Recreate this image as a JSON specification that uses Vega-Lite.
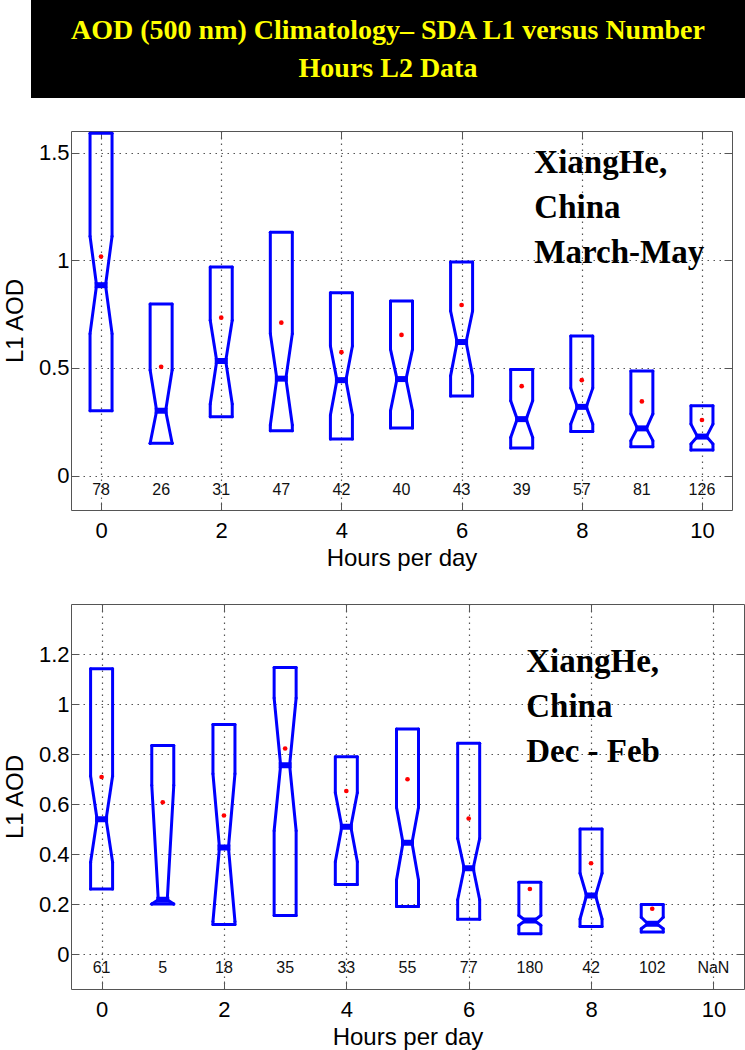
{
  "$schema": "https://vega.github.io/schema/vega-lite/v6.json",
  "padding": {"left": 2, "top": 0, "right": 0, "bottom": 0},
  "spacing": 32,
  "background": "white",
  "config": {
    "font": "Liberation Sans",
    "view": {"stroke": "#555555", "strokeWidth": 1},
    "axis": {
      "labelFont": "Liberation Sans", "labelFontSize": 22, "labelColor": "#000000",
      "titleFont": "Liberation Sans", "titleFontSize": 24, "titleFontWeight": "normal", "titleColor": "#000000",
      "grid": true, "gridColor": "#555555", "gridDash": [1.5, 4.5], "gridWidth": 1.2,
      "domain": false, "tickColor": "#555555", "tickSize": -8, "tickWidth": 1
    },
    "axisX": {"labelPadding": 18, "titlePadding": 5},
    "axisY": {"labelPadding": 10, "titlePadding": 11}
  },
  "datasets": {
    "spring": [
      {"hour": 0, "q1": 0.301, "nlo": 0.659, "med": 0.884, "nhi": 1.111, "q3": 1.59, "mean": 1.017, "n": "78"},
      {"hour": 1, "q1": 0.150, "nlo": 0.150, "med": 0.301, "nhi": 0.490, "q3": 0.797, "mean": 0.505, "n": "26"},
      {"hour": 2, "q1": 0.273, "nlo": 0.332, "med": 0.532, "nhi": 0.721, "q3": 0.969, "mean": 0.733, "n": "31"},
      {"hour": 3, "q1": 0.208, "nlo": 0.235, "med": 0.450, "nhi": 0.659, "q3": 1.130, "mean": 0.710, "n": "47"},
      {"hour": 4, "q1": 0.170, "nlo": 0.281, "med": 0.443, "nhi": 0.602, "q3": 0.849, "mean": 0.573, "n": "42"},
      {"hour": 5, "q1": 0.221, "nlo": 0.301, "med": 0.448, "nhi": 0.586, "q3": 0.810, "mean": 0.653, "n": "40"},
      {"hour": 6, "q1": 0.369, "nlo": 0.463, "med": 0.620, "nhi": 0.764, "q3": 0.992, "mean": 0.792, "n": "43"},
      {"hour": 7, "q1": 0.128, "nlo": 0.177, "med": 0.262, "nhi": 0.347, "q3": 0.492, "mean": 0.415, "n": "39"},
      {"hour": 8, "q1": 0.204, "nlo": 0.239, "med": 0.319, "nhi": 0.406, "q3": 0.648, "mean": 0.443, "n": "57"},
      {"hour": 9, "q1": 0.134, "nlo": 0.162, "med": 0.219, "nhi": 0.286, "q3": 0.486, "mean": 0.344, "n": "81"},
      {"hour": 10, "q1": 0.119, "nlo": 0.147, "med": 0.181, "nhi": 0.239, "q3": 0.324, "mean": 0.258, "n": "126"}
    ],
    "winter": [
      {"hour": 0, "q1": 0.260, "nlo": 0.367, "med": 0.539, "nhi": 0.712, "q3": 1.141, "mean": 0.708, "n": "61"},
      {"hour": 1, "q1": 0.200, "nlo": 0.200, "med": 0.217, "nhi": 0.675, "q3": 0.834, "mean": 0.607, "n": "5"},
      {"hour": 2, "q1": 0.118, "nlo": 0.130, "med": 0.426, "nhi": 0.721, "q3": 0.918, "mean": 0.554, "n": "18"},
      {"hour": 3, "q1": 0.154, "nlo": 0.493, "med": 0.755, "nhi": 1.024, "q3": 1.146, "mean": 0.822, "n": "35"},
      {"hour": 4, "q1": 0.278, "nlo": 0.369, "med": 0.509, "nhi": 0.645, "q3": 0.789, "mean": 0.652, "n": "33"},
      {"hour": 5, "q1": 0.190, "nlo": 0.296, "med": 0.445, "nhi": 0.586, "q3": 0.900, "mean": 0.699, "n": "55"},
      {"hour": 6, "q1": 0.139, "nlo": 0.217, "med": 0.343, "nhi": 0.462, "q3": 0.843, "mean": 0.542, "n": "77"},
      {"hour": 7, "q1": 0.081, "nlo": 0.115, "med": 0.134, "nhi": 0.154, "q3": 0.287, "mean": 0.260, "n": "180"},
      {"hour": 8, "q1": 0.110, "nlo": 0.140, "med": 0.234, "nhi": 0.323, "q3": 0.500, "mean": 0.363, "n": "42"},
      {"hour": 9, "q1": 0.088, "nlo": 0.101, "med": 0.121, "nhi": 0.147, "q3": 0.198, "mean": 0.181, "n": "102"},
      {"hour": 10, "q1": null, "nlo": null, "med": null, "nhi": null, "q3": null, "mean": null, "n": "NaN"}
    ]
  },
  "vconcat": [
    {
      "width": 674, "height": 98,
      "view": {"fill": "#000000", "stroke": null},
      "data": {"values": [{"t": "AOD (500 nm) Climatology– SDA L1 versus Number\nHours L2 Data"}]},
      "layer": [
        {"mark": {"type": "rect", "color": "#000000", "xOffset": -40},
         "encoding": {"x": {"datum": 0, "type": "quantitative", "scale": {"domain": [0, 1], "nice": false, "zero": false}, "axis": null}, "x2": {"datum": 1}}},
        {"mark": {"type": "text", "color": "#FFFF00", "font": "Liberation Serif", "fontWeight": "bold", "fontSize": 28, "lineBreak": "\n", "lineHeight": 38, "baseline": "middle", "align": "center", "dx": -20, "dy": -18},
         "encoding": {"text": {"field": "t"}}}
      ]
    },
    {
      "width": 661, "height": 379,
      "data": {"name": "spring"},
      "resolve": {"axis": {"x": "independent", "y": "independent"}},
      "layer": [
        {
          "encoding": {
            "x": {"field": "hour", "type": "quantitative", "scale": {"domain": [-0.5, 10.5], "nice": false, "zero": false}, "axis": {"values": [0, 2, 4, 6, 8, 10], "title": "Hours per day"}}
          },
          "layer": [
            {"mark": {"type": "rule", "color": "#0000FF", "strokeWidth": 3, "strokeCap": "round", "xOffset": -11, "x2Offset": 11},
             "encoding": {"x2": {"field": "hour"}, "y": {"field": "q3", "type": "quantitative", "title": "L1 AOD", "scale": {"domain": [-0.16, 1.6], "nice": false, "zero": false}, "axis": {"values": [0, 0.5, 1, 1.5], "format": "~g", "title": "L1 AOD"}}}},
            {"mark": {"type": "rule", "color": "#0000FF", "strokeWidth": 3, "strokeCap": "round", "xOffset": -11, "x2Offset": 11},
             "encoding": {"x2": {"field": "hour"}, "y": {"field": "q1", "type": "quantitative", "title": "L1 AOD", "scale": {"domain": [-0.16, 1.6], "nice": false, "zero": false}}}},
            {"mark": {"type": "rule", "color": "#0000FF", "strokeWidth": 3, "strokeCap": "round", "xOffset": -11},
             "encoding": {"y": {"field": "q1", "type": "quantitative", "title": "L1 AOD", "scale": {"domain": [-0.16, 1.6], "nice": false, "zero": false}}, "y2": {"field": "nlo"}}},
            {"mark": {"type": "rule", "color": "#0000FF", "strokeWidth": 3, "strokeCap": "round", "xOffset": 11},
             "encoding": {"y": {"field": "q1", "type": "quantitative", "title": "L1 AOD", "scale": {"domain": [-0.16, 1.6], "nice": false, "zero": false}}, "y2": {"field": "nlo"}}},
            {"mark": {"type": "rule", "color": "#0000FF", "strokeWidth": 3, "strokeCap": "round", "xOffset": -11},
             "encoding": {"y": {"field": "nhi", "type": "quantitative", "title": "L1 AOD", "scale": {"domain": [-0.16, 1.6], "nice": false, "zero": false}}, "y2": {"field": "q3"}}},
            {"mark": {"type": "rule", "color": "#0000FF", "strokeWidth": 3, "strokeCap": "round", "xOffset": 11},
             "encoding": {"y": {"field": "nhi", "type": "quantitative", "title": "L1 AOD", "scale": {"domain": [-0.16, 1.6], "nice": false, "zero": false}}, "y2": {"field": "q3"}}},
            {"mark": {"type": "rule", "color": "#0000FF", "strokeWidth": 3, "strokeCap": "round", "xOffset": -11, "x2Offset": -4.5},
             "encoding": {"x2": {"field": "hour"}, "y": {"field": "nlo", "type": "quantitative", "title": "L1 AOD", "scale": {"domain": [-0.16, 1.6], "nice": false, "zero": false}}, "y2": {"field": "med"}}},
            {"mark": {"type": "rule", "color": "#0000FF", "strokeWidth": 3, "strokeCap": "round", "xOffset": 11, "x2Offset": 4.5},
             "encoding": {"x2": {"field": "hour"}, "y": {"field": "nlo", "type": "quantitative", "title": "L1 AOD", "scale": {"domain": [-0.16, 1.6], "nice": false, "zero": false}}, "y2": {"field": "med"}}},
            {"mark": {"type": "rule", "color": "#0000FF", "strokeWidth": 3, "strokeCap": "round", "xOffset": -11, "x2Offset": -4.5},
             "encoding": {"x2": {"field": "hour"}, "y": {"field": "nhi", "type": "quantitative", "title": "L1 AOD", "scale": {"domain": [-0.16, 1.6], "nice": false, "zero": false}}, "y2": {"field": "med"}}},
            {"mark": {"type": "rule", "color": "#0000FF", "strokeWidth": 3, "strokeCap": "round", "xOffset": 11, "x2Offset": 4.5},
             "encoding": {"x2": {"field": "hour"}, "y": {"field": "nhi", "type": "quantitative", "title": "L1 AOD", "scale": {"domain": [-0.16, 1.6], "nice": false, "zero": false}}, "y2": {"field": "med"}}},
            {"mark": {"type": "rule", "color": "#0000FF", "strokeWidth": 6, "strokeCap": "butt", "xOffset": -6.5, "x2Offset": 6.5},
             "encoding": {"x2": {"field": "hour"}, "y": {"field": "med", "type": "quantitative", "title": "L1 AOD", "scale": {"domain": [-0.16, 1.6], "nice": false, "zero": false}}}},
            {"mark": {"type": "text", "fontSize": 16, "baseline": "middle", "align": "center", "color": "#111111"},
             "encoding": {"y": {"datum": -0.065, "type": "quantitative", "scale": {"domain": [-0.16, 1.6], "nice": false, "zero": false}}, "text": {"field": "n"}}},
            {"transform": [{"filter": "datum.hour == 0"}],
             "mark": {"type": "text", "font": "Liberation Serif", "fontWeight": "bold", "fontSize": 33, "lineHeight": 45, "align": "left", "baseline": "alphabetic", "color": "#000000"},
             "encoding": {"x": {"datum": 7.21, "type": "quantitative", "scale": {"domain": [-0.5, 10.5], "nice": false, "zero": false}}, "y": {"datum": 1.406, "type": "quantitative", "scale": {"domain": [-0.16, 1.6], "nice": false, "zero": false}}, "text": {"value": ["XiangHe,", "China", "March-May"]}}}
          ]
        },
        {
          "mark": {"type": "point", "filled": true, "color": "#FF0000", "size": 22, "opacity": 1},
          "encoding": {
            "x": {"field": "hour", "type": "quantitative", "scale": {"domain": [-0.5, 10.5], "nice": false, "zero": false}, "axis": {"orient": "top", "values": [0, 2, 4, 6, 8, 10], "labels": false, "grid": false, "title": null}},
            "y": {"field": "mean", "type": "quantitative", "scale": {"domain": [-0.16, 1.6], "nice": false, "zero": false}, "axis": {"orient": "right", "values": [0, 0.5, 1, 1.5], "labels": false, "grid": false, "title": null}}
          }
        }
      ]
    },
    {
      "width": 673, "height": 385,
      "data": {"name": "winter"},
      "resolve": {"axis": {"x": "independent", "y": "independent"}},
      "layer": [
        {
          "encoding": {
            "x": {"field": "hour", "type": "quantitative", "scale": {"domain": [-0.5, 10.5], "nice": false, "zero": false}, "axis": {"values": [0, 2, 4, 6, 8, 10], "title": "Hours per day"}}
          },
          "layer": [
            {"mark": {"type": "rule", "color": "#0000FF", "strokeWidth": 3, "strokeCap": "round", "xOffset": -11, "x2Offset": 11},
             "encoding": {"x2": {"field": "hour"}, "y": {"field": "q3", "type": "quantitative", "title": "L1 AOD", "scale": {"domain": [-0.14, 1.4], "nice": false, "zero": false}, "axis": {"values": [0, 0.2, 0.4, 0.6, 0.8, 1, 1.2], "format": "~g", "title": "L1 AOD"}}}},
            {"mark": {"type": "rule", "color": "#0000FF", "strokeWidth": 3, "strokeCap": "round", "xOffset": -11, "x2Offset": 11},
             "encoding": {"x2": {"field": "hour"}, "y": {"field": "q1", "type": "quantitative", "title": "L1 AOD", "scale": {"domain": [-0.14, 1.4], "nice": false, "zero": false}}}},
            {"mark": {"type": "rule", "color": "#0000FF", "strokeWidth": 3, "strokeCap": "round", "xOffset": -11},
             "encoding": {"y": {"field": "q1", "type": "quantitative", "title": "L1 AOD", "scale": {"domain": [-0.14, 1.4], "nice": false, "zero": false}}, "y2": {"field": "nlo"}}},
            {"mark": {"type": "rule", "color": "#0000FF", "strokeWidth": 3, "strokeCap": "round", "xOffset": 11},
             "encoding": {"y": {"field": "q1", "type": "quantitative", "title": "L1 AOD", "scale": {"domain": [-0.14, 1.4], "nice": false, "zero": false}}, "y2": {"field": "nlo"}}},
            {"mark": {"type": "rule", "color": "#0000FF", "strokeWidth": 3, "strokeCap": "round", "xOffset": -11},
             "encoding": {"y": {"field": "nhi", "type": "quantitative", "title": "L1 AOD", "scale": {"domain": [-0.14, 1.4], "nice": false, "zero": false}}, "y2": {"field": "q3"}}},
            {"mark": {"type": "rule", "color": "#0000FF", "strokeWidth": 3, "strokeCap": "round", "xOffset": 11},
             "encoding": {"y": {"field": "nhi", "type": "quantitative", "title": "L1 AOD", "scale": {"domain": [-0.14, 1.4], "nice": false, "zero": false}}, "y2": {"field": "q3"}}},
            {"mark": {"type": "rule", "color": "#0000FF", "strokeWidth": 3, "strokeCap": "round", "xOffset": -11, "x2Offset": -4.5},
             "encoding": {"x2": {"field": "hour"}, "y": {"field": "nlo", "type": "quantitative", "title": "L1 AOD", "scale": {"domain": [-0.14, 1.4], "nice": false, "zero": false}}, "y2": {"field": "med"}}},
            {"mark": {"type": "rule", "color": "#0000FF", "strokeWidth": 3, "strokeCap": "round", "xOffset": 11, "x2Offset": 4.5},
             "encoding": {"x2": {"field": "hour"}, "y": {"field": "nlo", "type": "quantitative", "title": "L1 AOD", "scale": {"domain": [-0.14, 1.4], "nice": false, "zero": false}}, "y2": {"field": "med"}}},
            {"mark": {"type": "rule", "color": "#0000FF", "strokeWidth": 3, "strokeCap": "round", "xOffset": -11, "x2Offset": -4.5},
             "encoding": {"x2": {"field": "hour"}, "y": {"field": "nhi", "type": "quantitative", "title": "L1 AOD", "scale": {"domain": [-0.14, 1.4], "nice": false, "zero": false}}, "y2": {"field": "med"}}},
            {"mark": {"type": "rule", "color": "#0000FF", "strokeWidth": 3, "strokeCap": "round", "xOffset": 11, "x2Offset": 4.5},
             "encoding": {"x2": {"field": "hour"}, "y": {"field": "nhi", "type": "quantitative", "title": "L1 AOD", "scale": {"domain": [-0.14, 1.4], "nice": false, "zero": false}}, "y2": {"field": "med"}}},
            {"mark": {"type": "rule", "color": "#0000FF", "strokeWidth": 6, "strokeCap": "butt", "xOffset": -6.5, "x2Offset": 6.5},
             "encoding": {"x2": {"field": "hour"}, "y": {"field": "med", "type": "quantitative", "title": "L1 AOD", "scale": {"domain": [-0.14, 1.4], "nice": false, "zero": false}}}},
            {"mark": {"type": "text", "fontSize": 16, "baseline": "middle", "align": "center", "color": "#111111"},
             "encoding": {"y": {"datum": -0.056, "type": "quantitative", "scale": {"domain": [-0.14, 1.4], "nice": false, "zero": false}}, "text": {"field": "n"}}},
            {"transform": [{"filter": "datum.hour == 0"}],
             "mark": {"type": "text", "font": "Liberation Serif", "fontWeight": "bold", "fontSize": 33, "lineHeight": 45, "align": "left", "baseline": "alphabetic", "color": "#000000"},
             "encoding": {"x": {"datum": 6.94, "type": "quantitative", "scale": {"domain": [-0.5, 10.5], "nice": false, "zero": false}}, "y": {"datum": 1.129, "type": "quantitative", "scale": {"domain": [-0.14, 1.4], "nice": false, "zero": false}}, "text": {"value": ["XiangHe,", "China", "Dec - Feb"]}}}
          ]
        },
        {
          "mark": {"type": "point", "filled": true, "color": "#FF0000", "size": 22, "opacity": 1},
          "encoding": {
            "x": {"field": "hour", "type": "quantitative", "scale": {"domain": [-0.5, 10.5], "nice": false, "zero": false}, "axis": {"orient": "top", "values": [0, 2, 4, 6, 8, 10], "labels": false, "grid": false, "title": null}},
            "y": {"field": "mean", "type": "quantitative", "scale": {"domain": [-0.14, 1.4], "nice": false, "zero": false}, "axis": {"orient": "right", "values": [0, 0.2, 0.4, 0.6, 0.8, 1, 1.2], "labels": false, "grid": false, "title": null}}
          }
        }
      ]
    }
  ]
}
